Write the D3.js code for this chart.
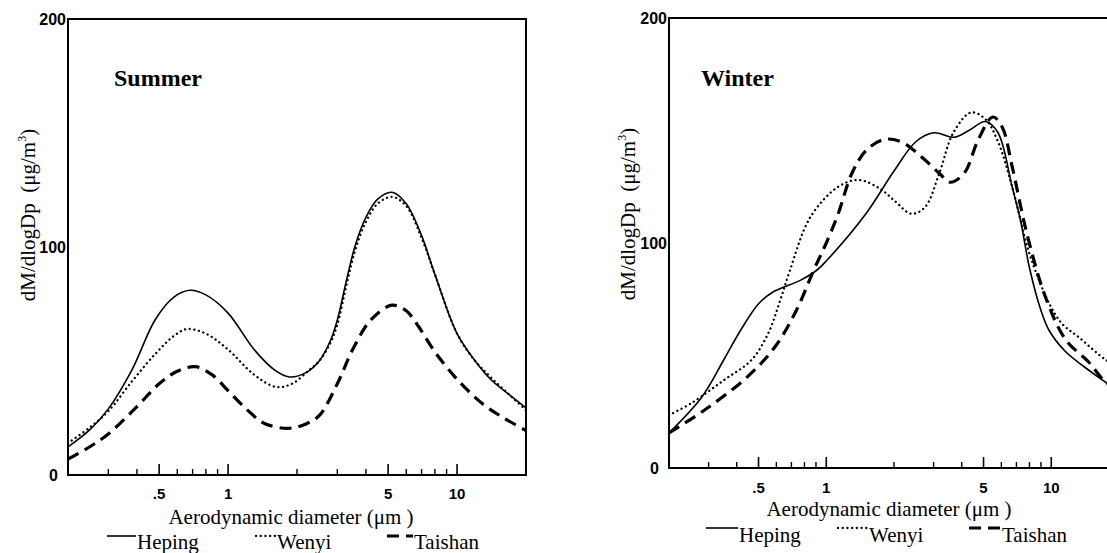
<!DOCTYPE html>
<html>
<head>
<meta charset="utf-8">
<script src="https://cdn.jsdelivr.net/npm/d3@7"></script>
<style>
  body { margin: 0; background: #fff; }
  svg { display: block; }
  text { fill: #000; }
</style>
</head>
<body>
<svg id="chart" width="1107" height="553"></svg>
<script>
// aerodynamic diameter (um) sample points and dM/dlogDp values (ug/m3)
const summerHepingD = [0.2, 0.25, 0.3, 0.38, 0.48, 0.58, 0.68, 0.8, 1.0, 1.3, 1.6, 1.85, 2.2, 2.5, 2.8, 3.0, 3.3, 3.6, 4.0, 4.5, 5.2, 6.0, 7.0, 8.0, 10, 12, 14, 17, 20]
const summerHeping = [12.3, 20, 29, 46, 68, 78, 81, 79, 71, 55, 46, 43, 45, 50, 59, 68, 86, 101, 113, 121, 124, 119, 105, 88, 62, 50, 42, 35, 29.4]

const summerWenyiD = [0.2, 0.25, 0.3, 0.38, 0.48, 0.58, 0.66, 0.8, 1.0, 1.3, 1.62, 1.9, 2.26, 2.5, 2.8, 3.0, 3.3, 3.6, 4.0, 4.5, 5.2, 6.0, 7.0, 8.0, 10, 12, 14, 17, 20]
const summerWenyi = [14, 21, 28, 41, 53, 61, 64, 62, 55, 44, 38.6, 40, 46, 50, 58, 66, 84, 99, 111, 119, 122, 118, 104, 88, 62, 50, 43, 35, 28.5]

const summerTaishanD = [0.2, 0.25, 0.3, 0.4, 0.5, 0.6, 0.72, 0.85, 1.0, 1.2, 1.45, 1.85, 2.2, 2.5, 3.0, 3.5, 4.2, 5.2, 6.0, 6.8, 8.0, 10, 13, 16, 20]
const summerTaishan = [7, 12.5, 18, 30, 40, 45.5, 47.5, 44, 37, 29, 22.5, 20.5, 22.5, 26, 40, 55, 68, 74.5, 72, 65, 54, 42, 31, 25, 19.5]

const winterHepingD = [0.2, 0.28, 0.35, 0.415, 0.5, 0.575, 0.77, 0.91, 1.0, 1.5, 2.0, 2.5, 3.0, 3.7, 4.3, 5.1, 5.8, 6.7, 7.3, 8.0, 9.0, 9.8, 11.5, 14, 17.5, 20]
const winterHeping = [15.6, 31.6, 48, 61, 73, 78, 83.5, 88, 92, 113, 132, 145, 149, 147, 150, 154, 149, 125, 110, 89, 70, 61, 52, 45, 38, 34]

const winterWenyiD = [0.2, 0.253, 0.35, 0.465, 0.553, 0.617, 0.685, 0.85, 1.13, 1.4, 1.74, 2.0, 2.39, 2.75, 3.18, 3.67, 4.4, 5.1, 5.8, 6.7, 7.7, 8.2, 9.8, 11.2, 13.3, 17.5, 20]
const winterWenyi = [23.5, 29, 39, 48, 60, 73, 87, 111.5, 125, 128, 124, 119, 113, 116, 131, 149, 158, 155, 145, 125, 101, 92, 73, 64, 58, 48, 45]

const winterTaishanD = [0.2, 0.29, 0.446, 0.593, 0.736, 0.88, 1.0, 1.13, 1.3, 1.5, 1.8, 2.15, 2.67, 3.18, 3.55, 4.1, 4.74, 5.5, 6.05, 6.7, 7.8, 9.5, 11.6, 14.7, 17.5, 20]
const winterTaishan = [15.6, 26, 40.5, 54, 70, 88, 100, 113, 131, 141, 146, 145, 138, 131, 127, 131, 146, 156, 151.6, 134, 104, 75, 57, 47, 38, 35]

const seriesNames = ["Heping", "Wenyi", "Taishan"]
const xTickMajor = [0.5, 1, 5, 10]
const xTickLabels = [".5", "1", "5", "10"]
const xTickMinor = [0.3, 0.4, 0.6, 0.7, 0.8, 0.9, 2, 3, 4, 6, 7, 8, 9]
const yTicks = [0, 100, 200]

const STYLES = {
  Heping: { width: 1.6, dash: null, cap: "butt" },
  Wenyi: { width: 2.3, dash: "0.1,4.6", cap: "round" },
  Taishan: { width: 3.2, dash: "12,7", cap: "butt" }
}

const svg = d3.select("#chart")
const serif = "'Liberation Serif', 'Times New Roman', serif"
const sans = "'Liberation Sans', Arial, sans-serif"

function drawPanel(p) {
  const x = d3.scaleLog().domain([0.2, 20]).range([p.left, p.right])
  const y = d3.scaleLinear().domain([0, 200]).range([p.bottom, p.top])
  const g = svg.append("g")

  const clipId = "clip-" + p.name
  g.append("clipPath").attr("id", clipId)
    .append("rect")
    .attr("x", p.left).attr("y", p.top)
    .attr("width", p.right - p.left).attr("height", p.bottom - p.top)

  // curves
  const line = d3.line()
    .x(d => x(d[0]))
    .y(d => y(d[1]))
    .curve(d3.curveCatmullRom.alpha(0.5))

  p.series.forEach(s => {
    const st = STYLES[s.name]
    g.append("path")
      .attr("clip-path", `url(#${clipId})`)
      .attr("d", line(d3.zip(s.d, s.v)))
      .attr("fill", "none")
      .attr("stroke", "#000")
      .attr("stroke-width", st.width)
      .attr("stroke-linecap", st.cap)
      .attr("stroke-dasharray", st.dash)
  })

  // frame
  g.append("rect")
    .attr("x", p.left).attr("y", p.top)
    .attr("width", p.right - p.left).attr("height", p.bottom - p.top)
    .attr("fill", "none").attr("stroke", "#000").attr("stroke-width", 2)

  // inward ticks
  g.selectAll(".minor").data(xTickMinor).join("line")
    .attr("x1", d => x(d)).attr("x2", d => x(d))
    .attr("y1", p.bottom).attr("y2", p.bottom - 6)
    .attr("stroke", "#000").attr("stroke-width", 1.4)
  g.selectAll(".major").data(xTickMajor).join("line")
    .attr("x1", d => x(d)).attr("x2", d => x(d))
    .attr("y1", p.bottom).attr("y2", p.bottom - 11)
    .attr("stroke", "#000").attr("stroke-width", 1.6)

  g.selectAll(".xl").data(xTickMajor).join("text")
    .attr("x", d => x(d)).attr("y", p.xLabelY)
    .attr("text-anchor", "middle")
    .attr("font-family", sans).attr("font-weight", "bold").attr("font-size", 15)
    .text((d, i) => xTickLabels[i])

  g.selectAll(".yl").data(yTicks).join("text")
    .attr("x", d => d === 0 ? p.left - 10 : p.left - 2)
    .attr("y", d => y(d) + 6)
    .attr("text-anchor", "end")
    .attr("font-family", sans).attr("font-weight", "bold").attr("font-size", 16)
    .text(d => d)

  // y title
  const yt = g.append("text")
    .attr("transform", `translate(${p.yTitleX},${p.yTitleY}) rotate(-90)`)
    .attr("text-anchor", "middle")
    .attr("font-family", serif).attr("font-size", 21)
    .style("white-space", "pre")
  yt.append("tspan").text("dM/dlogDp  (\u03bcg/m")
  yt.append("tspan").attr("font-size", 12).attr("dy", -9).text("3")
  yt.append("tspan").attr("dy", 9).text(")")

  // x title
  g.append("text")
    .attr("x", p.xTitleX).attr("y", p.xTitleY)
    .attr("text-anchor", "middle")
    .attr("font-family", serif).attr("font-size", 21)
    .style("white-space", "pre")
    .text("Aerodynamic diameter (\u03bcm )")

  // season label
  g.append("text")
    .attr("x", p.seasonX).attr("y", 86)
    .attr("font-family", serif).attr("font-weight", "bold").attr("font-size", 24)
    .text(p.season)

  // legend
  p.legend.forEach((lx, i) => {
    const st = STYLES[seriesNames[i]]
    g.append("line")
      .attr("x1", lx[0]).attr("x2", lx[1])
      .attr("y1", p.legendLineY).attr("y2", p.legendLineY)
      .attr("stroke", "#000")
      .attr("stroke-width", st.width)
      .attr("stroke-linecap", st.cap)
      .attr("stroke-dasharray", st.dash)
    g.append("text")
      .attr("x", lx[1] + 1).attr("y", p.legendTextY)
      .attr("font-family", serif).attr("font-size", 21)
      .text(seriesNames[i])
  })
}

drawPanel({
  name: "summer", season: "Summer", seasonX: 114,
  left: 68, right: 526, top: 19, bottom: 475,
  xLabelY: 499, xTitleX: 291, xTitleY: 524,
  yTitleX: 35, yTitleY: 215,
  legendLineY: 536, legendTextY: 549,
  legend: [[107, 136], [256, 276], [387, 413]],
  series: [
    { name: "Heping", d: summerHepingD, v: summerHeping },
    { name: "Wenyi", d: summerWenyiD, v: summerWenyi },
    { name: "Taishan", d: summerTaishanD, v: summerTaishan }
  ]
})

drawPanel({
  name: "winter", season: "Winter", seasonX: 701,
  left: 669, right: 1119, top: 18, bottom: 468,
  xLabelY: 493, xTitleX: 889, xTitleY: 516,
  yTitleX: 635, yTitleY: 214,
  legendLineY: 528, legendTextY: 542,
  legend: [[706, 738], [838, 868], [969, 1001]],
  series: [
    { name: "Heping", d: winterHepingD, v: winterHeping },
    { name: "Wenyi", d: winterWenyiD, v: winterWenyi },
    { name: "Taishan", d: winterTaishanD, v: winterTaishan }
  ]
})
</script>
</body>
</html>
